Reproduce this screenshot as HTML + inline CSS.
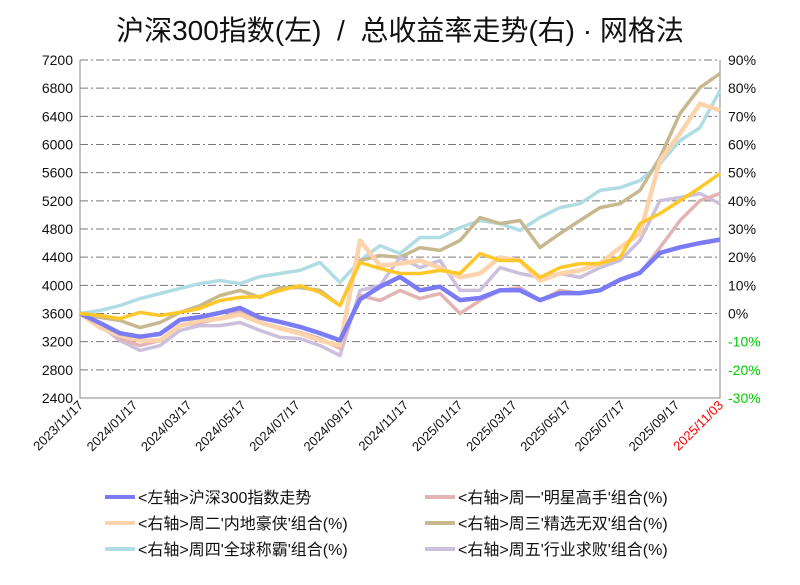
<!DOCTYPE html>
<html><head><meta charset="utf-8"><style>
body{margin:0;background:#fff;font-family:"Liberation Sans","Noto Sans CJK SC",sans-serif}
</style></head><body>
<svg id="c" width="800" height="580" xmlns="http://www.w3.org/2000/svg" font-family="Liberation Sans, Noto Sans CJK SC, sans-serif"></svg>
<script>
const leftTicks=[2400,2800,3200,3600,4000,4400,4800,5200,5600,6000,6400,6800,7200];
const rightTicks=[-30,-20,-10,0,10,20,30,40,50,60,70,80,90];
const xTickLabels=["2023/11/17","2024/01/17","2024/03/17","2024/05/17","2024/07/17","2024/09/17","2024/11/17","2025/01/17","2025/03/17","2025/05/17","2025/07/17","2025/09/17","2025/11/03"];
const csi300=[3600,3465,3320,3270,3310,3510,3550,3610,3680,3540,3480,3410,3320,3220,3800,3980,4120,3930,3980,3790,3820,3930,3930,3790,3890,3890,3930,4080,4180,4460,4540,4600,4650];
const mon=[0,-4.3,-8.9,-11.4,-9.6,-4.3,-3.2,-1.8,1.1,-3.2,-5,-6.7,-8.9,-12.4,6.4,4.6,8.2,5.3,7.1,0,4.6,8.2,9.2,4.6,8.2,7.1,8.2,11.7,14.2,23.4,33,40.1,42.6];
const tue=[0,-5,-7.8,-9.6,-9.6,-4.3,-2.5,-1.8,-0.4,-3.2,-5.3,-7.1,-9.6,-11.4,25.9,17,17.7,18.8,16.3,12.8,14.2,19.9,18.8,11.7,14.2,15.3,17.7,23.4,28.4,54.3,63.9,74.5,72.1];
const wed=[0,-1.4,-2.5,-5,-3.2,0.4,2.8,6.4,8.2,5.7,9.2,9.2,8.2,2.8,18.8,20.6,19.9,23.4,22.4,25.9,34.1,31.9,33,23.4,28.4,33,37.6,39,43.7,55.4,71,80.2,85.2];
const thu=[0,1.1,2.8,5.3,7.1,8.9,10.6,11.7,10.6,13.1,14.2,15.3,18.1,11,18.8,24.1,21.3,27,27,30.5,33,31.9,29.5,34.1,37.6,39,43.7,44.7,47.2,53.2,61.4,66,79.2];
const gold=[0,-0.7,-1.8,0.4,-0.7,0.4,1.8,4.6,5.7,6,8.2,9.9,7.5,2.8,18.1,16,14.2,14.2,15.3,14.2,21.3,18.8,18.8,12.8,16.3,17.7,17.7,19.9,31.9,35.5,40.1,44.7,49.7];
const fri=[0,-4.3,-9.6,-13.1,-11.4,-6,-4.3,-4.3,-3.2,-6,-8.5,-8.9,-11.4,-14.9,8.2,9.9,19.9,16.3,18.8,8.2,8.2,16.3,14.2,12.8,14.2,12.8,16.3,18.8,25.9,40.1,41.2,42.6,39];

const NS="http://www.w3.org/2000/svg",svg=document.getElementById('c');
const L=80,R=720,T=60,B=398;
const yL=v=>B-(v-2400)/(7200-2400)*(B-T);
const yR=p=>B-(p+30)/120*(B-T);
const xI=i=>L+i*(R-L)/(csi300.length-1);
function mk(t,a,p){const e=document.createElementNS(NS,t);for(const k in a)e.setAttribute(k,a[k]);(p||svg).appendChild(e);return e;}
const title=mk('text',{x:400,y:40,'text-anchor':'middle','font-size':28,fill:'#111','xml:space':'preserve'});


title.style.whiteSpace='pre';
title.textContent='沪深300指数(左)  /  总收益率走势(右) · 网格法';
leftTicks.forEach((v,i)=>{
  if(i>0){const g=mk('line',{x1:L,x2:R,y1:yL(v),y2:yL(v),stroke:'#777','stroke-dasharray':'8,3,2,3','stroke-width':1});
  
  }
  const t=mk('text',{x:73,y:yL(v)+5,'text-anchor':'end','font-size':14,fill:'#111'});
  
  
  t.textContent=v;
});
rightTicks.forEach(p=>{
  const t=mk('text',{x:728,y:yR(p)+5,'font-size':14,fill:p<0?'#00cc00':'#111'});
  
  
  t.textContent=p+'%';
});
const ax=mk('path',{d:`M${L},${T}V${B}H${R}V${T}`,fill:'none',stroke:'#888','stroke-width':1});


xTickLabels.forEach((s,i)=>{
  const x=i<12?L+i*54.2:R;
  const t=mk('text',{x:x+4,y:B+8,'text-anchor':'end','font-size':13,fill:i==12?'#ff0000':'#111',transform:`rotate(-45 ${x+4} ${B+8})`});
  
  
  t.textContent=s;
});
const series=[
 {d:thu,c:'#b0dde4',w:3.5,n:'series-thu',r:1},
 {d:wed,c:'#c8b890',w:3.5,n:'series-wed',r:1},
 {d:fri,c:'#ccc0dc',w:3.5,n:'series-fri',r:1},
 {d:mon,c:'#e4b4b4',w:3.5,n:'series-mon',r:1},
 {d:tue,c:'#fdd3ac',w:4.5,n:'series-tue',r:1},
 {d:csi300,c:'#7b7bf5',w:4.5,n:'series-csi300',r:0},
 {d:gold,c:'#ffc82a',w:3.5,n:'series-gold',r:1}];
series.forEach(s=>{
  const d=s.d.map((v,i)=>(i?'L':'M')+xI(i).toFixed(1)+','+(s.r?yR(v):yL(v)).toFixed(1)).join('');
  const p=mk('path',{d,fill:'none',stroke:s.c,'stroke-width':s.w,'stroke-linejoin':'round'});
  
  
});
const leg=[['<左轴>沪深300指数走势','#7b7bf5'],['<右轴>周一\'明星高手\'组合(%)','#e4b4b4'],['<右轴>周二\'内地豪侠\'组合(%)','#fdd3ac'],['<右轴>周三\'精选无双\'组合(%)','#c8b890'],['<右轴>周四\'全球称霸\'组合(%)','#b0dde4'],['<右轴>周五\'行业求败\'组合(%)','#ccc0dc']];
leg.forEach((l,i)=>{
  const x=i%2?425:105,y=497+Math.floor(i/2)*26;
  const g=mk('g',{});
  
  
  mk('line',{x1:x,x2:x+30,y1:y,y2:y,stroke:l[1],'stroke-width':4},g);
  const t=mk('text',{x:x+33,y:y+6,'font-size':16,fill:'#111'},g);
  t.textContent=l[0];
});
</script>
</body></html>
